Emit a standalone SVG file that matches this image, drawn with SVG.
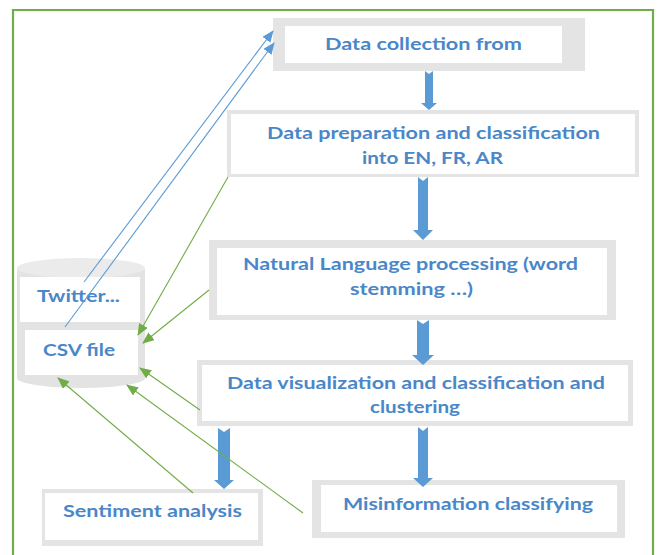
<svg xmlns="http://www.w3.org/2000/svg" width="657" height="555" viewBox="0 0 657 555">
  <style>
    .frame { fill: #e4e4e4; }
    .inner { fill: #ffffff; }
    .label { font-family: Lato, "Liberation Sans", sans-serif; font-weight: bold; font-size: 17px; fill: #4a87c9; text-anchor: middle; }
    .flow { fill: #5b9bd5; }
    .green { stroke: #70ad47; stroke-width: 1.1; fill: none; marker-end: url(#gHead); }
    .blue { stroke: #5b9bd5; stroke-width: 1.1; fill: none; marker-end: url(#bHead); }
  </style>
  <defs>
    <marker id="gHead" markerUnits="userSpaceOnUse" markerWidth="12" markerHeight="10" refX="11" refY="5" orient="auto">
      <path d="M0,0 L12,5 L0,10 Z" fill="#70ad47"/>
    </marker>
    <marker id="bHead" markerUnits="userSpaceOnUse" markerWidth="12" markerHeight="10" refX="11" refY="5" orient="auto">
      <path d="M0,0 L12,5 L0,10 Z" fill="#5b9bd5"/>
    </marker>
  </defs>

  <rect width="657" height="555" fill="#ffffff"/>
  <!-- outer border -->
  <path d="M13,560 V10 H653 V560" fill="none" stroke="#70ad47" stroke-width="2.2"/>

  <!-- data store cylinder -->
  <g id="store">
    <path d="M17,268 V378 A64,10 0 0 0 145,378 V268 Z" fill="#e3e3e3"/>
    <ellipse cx="81" cy="268" rx="64" ry="10" fill="#ebebeb"/>
    <g id="twitter">
      <rect class="inner" x="20" y="277" width="120" height="45"/>
      <text class="label" x="78.5" y="302" textLength="83" lengthAdjust="spacingAndGlyphs">Twitter...</text>
    </g>
    <g id="csv">
      <rect class="inner" x="25" y="330" width="113" height="45"/>
      <text class="label" x="79" y="356" textLength="72" lengthAdjust="spacingAndGlyphs">CSV file</text>
    </g>
  </g>

  <g id="collection">
    <rect class="frame" x="273" y="18" width="312" height="53"/>
    <rect class="inner" x="285" y="26" width="277" height="37"/>
    <text class="label" x="423.5" y="50" textLength="197" lengthAdjust="spacingAndGlyphs">Data collection from</text>
  </g>

  <g id="preparation">
    <rect class="frame" x="227" y="110" width="412" height="67"/>
    <rect class="inner" x="231" y="114" width="404" height="60"/>
    <text class="label" x="433.5" y="139" textLength="333" lengthAdjust="spacingAndGlyphs">Data preparation and classification</text>
    <text class="label" x="432.5" y="164" textLength="141" lengthAdjust="spacingAndGlyphs">into EN, FR, AR</text>
  </g>

  <g id="nlp">
    <rect class="frame" x="209" y="240" width="407" height="80"/>
    <rect class="inner" x="217" y="248" width="390" height="67"/>
    <text class="label" x="410.5" y="270" textLength="335" lengthAdjust="spacingAndGlyphs">Natural Language processing (word</text>
    <text class="label" x="411.5" y="295" textLength="123" lengthAdjust="spacingAndGlyphs">stemming …)</text>
  </g>

  <g id="visualization">
    <rect class="frame" x="197" y="360" width="436" height="66"/>
    <rect class="inner" x="202" y="365" width="426" height="56"/>
    <text class="label" x="416" y="389" textLength="378" lengthAdjust="spacingAndGlyphs">Data visualization and classification and</text>
    <text class="label" x="415" y="413" textLength="90" lengthAdjust="spacingAndGlyphs">clustering</text>
  </g>

  <g id="sentiment">
    <rect class="frame" x="42" y="489" width="221" height="57"/>
    <rect class="inner" x="45" y="493" width="213" height="47"/>
    <text class="label" x="152.5" y="517" textLength="179" lengthAdjust="spacingAndGlyphs">Sentiment analysis</text>
  </g>

  <g id="misinformation">
    <rect class="frame" x="312" y="480" width="313" height="58"/>
    <rect class="inner" x="321" y="485" width="296" height="47"/>
    <text class="label" x="468" y="510" textLength="250" lengthAdjust="spacingAndGlyphs">Misinformation classifying</text>
  </g>

  <g id="connectors">
    <!-- main flow block arrows -->
    <path class="flow" d="M425,71 L429,74 L433,71 V103 H437 L429,110 L421,103 H425 Z"/>
    <path class="flow" d="M418,177 L423,181 L428,177 V230 H433 L423,240 L413,230 H418 Z"/>
    <path class="flow" d="M417,320 L423,324 L429,320 V355 H434 L423,365 L412,355 H417 Z"/>
    <path class="flow" d="M418,427 L423,431 L428,427 V478 H433 L423,487 L413,478 H418 Z"/>
    <path class="flow" d="M218,428 L224,432 L230,428 V480 H234 L224,489 L214,480 H218 Z"/>
    <!-- store feeding collection -->
    <line class="blue" x1="84" y1="282" x2="273" y2="31"/>
    <line class="blue" x1="65" y1="327" x2="274" y2="43"/>
    <!-- results written back to the store -->
    <line class="green" x1="228" y1="177" x2="138" y2="335"/>
    <line class="green" x1="209" y1="290" x2="143" y2="343"/>
    <line class="green" x1="200" y1="410" x2="140" y2="368"/>
    <line class="green" x1="193" y1="493" x2="58" y2="378"/>
    <line class="green" x1="303" y1="513" x2="127" y2="385"/>
  </g>
</svg>
